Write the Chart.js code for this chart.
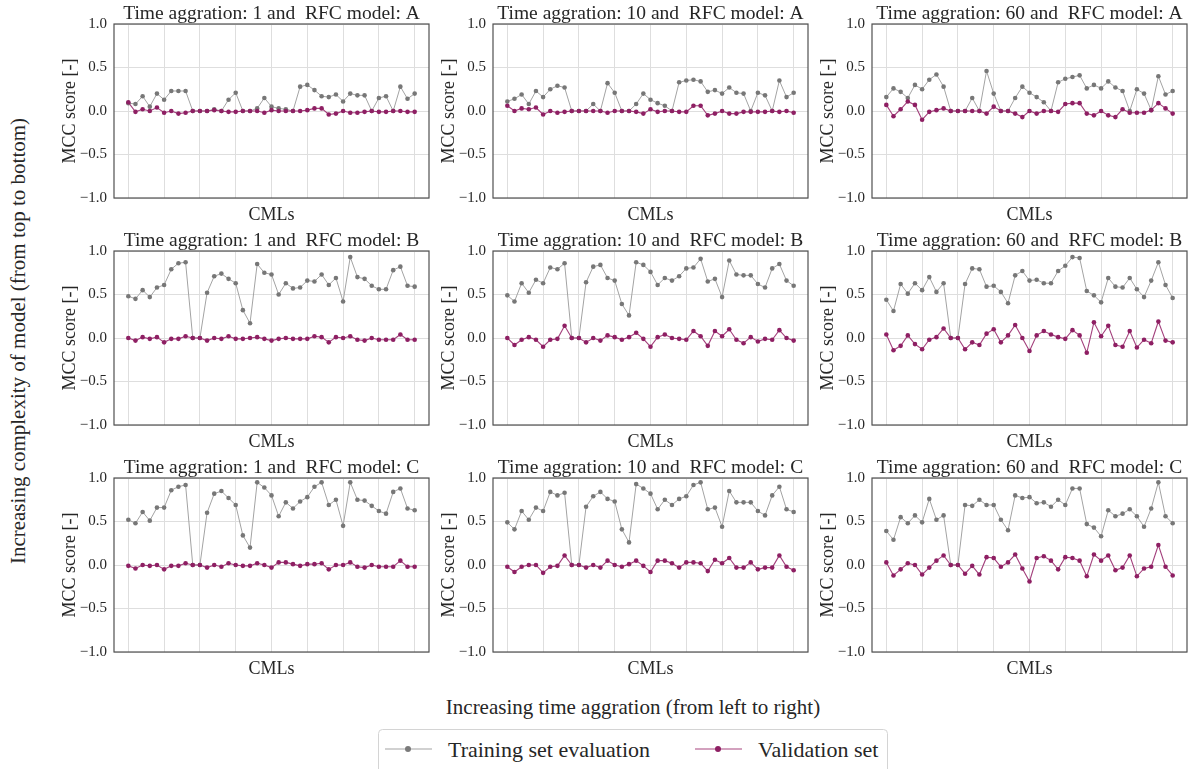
<!DOCTYPE html>
<html>
<head>
<meta charset="utf-8">
<title>MCC scores per CML</title>
<script src="https://cdn.jsdelivr.net/npm/chart.js@4.4.1/dist/chart.umd.min.js"></script>
<style>
    body {
        margin: 0;
        width: 1191px;
        height: 769px;
        background: #fff;
        position: relative;
        overflow: hidden;
        font-family: "Liberation Serif", "Times New Roman", serif;
        color: #262626;
    }
    canvas.panel { position: absolute; }
    .outer-label {
        position: absolute;
        white-space: nowrap;
        font-size: 21px;
        line-height: 1;
    }
    #ylab { left: 18px; top: 341px; transform: translate(-50%, -50%) rotate(-90deg); }
    #xlab { left: 633px; top: 707px; transform: translate(-50%, -50%); }
    #legend { position: absolute; left: 378px; top: 729px; }
</style>
</head>
<body>

<div id="ylab" class="outer-label">Increasing complexity of model (from top to bottom)</div>
<div id="xlab" class="outer-label">Increasing time aggration (from left to right)</div>

<svg id="legend" width="511" height="42">
    <rect x="0.5" y="0.5" width="509" height="50" rx="4" fill="#fff" stroke="#d4d4d4"/>
    <line x1="7" y1="20" x2="54" y2="20" stroke="#a3a3a3" stroke-width="1.2"/>
    <circle cx="30" cy="20" r="3" fill="#7a7a7a"/>
    <text x="70" y="27.5" font-family="Liberation Serif, serif" font-size="22" fill="#262626">Training set evaluation</text>
    <line x1="317" y1="20" x2="364" y2="20" stroke="#a8457f" stroke-width="1.2"/>
    <circle cx="340" cy="20" r="3" fill="#8e1f63"/>
    <text x="380" y="27.5" font-family="Liberation Serif, serif" font-size="22" fill="#262626">Validation set</text>
</svg>

<script>
// grid setup
const timeAggs = [1, 10, 60];
const models = ['A', 'B', 'C'];
const cmlTicks = [0, 5, 10, 15, 20, 25, 30, 35, 40];
const mccTicks = [-1, -0.5, 0, 0.5, 1];

// MCC per CML, model A
const trainT1A = [0.09,0.08,0.17,0.05,0.20,0.13,0.23,0.23,0.23,0,0,0,0.02,0,0.13,0.21,0,0,0.03,0.15,0.05,0.03,0.02,0,0.28,0.30,0.24,0.17,0.16,0.19,0.11,0.20,0.18,0.18,0,0.15,0.17,0,0.28,0.14,0.20];
const validT1A = [0.10,-0.01,0.02,0,0.04,-0.02,0,-0.03,-0.02,0,0,0,0.01,0,-0.01,-0.01,0,0,0,-0.02,0.01,0,0,0,0,0.01,0.03,0.03,-0.04,-0.03,0,-0.02,-0.02,-0.01,0,-0.01,-0.01,0,0,-0.01,-0.01];
const trainT10A = [0.11,0.14,0.19,0.08,0.23,0.16,0.25,0.29,0.27,0,0,0,0.08,0,0.32,0.21,0,0,0.08,0.20,0.13,0.09,0.06,0,0.33,0.35,0.36,0.34,0.22,0.24,0.20,0.27,0.21,0.20,0,0.21,0.18,0,0.35,0.16,0.21];
const validT10A = [0.06,0,0.03,0.02,0.04,-0.04,0,-0.02,-0.01,0,0,0,0,0,-0.02,0,0,0,-0.01,-0.03,0.02,-0.01,0,0,-0.01,-0.01,0.06,0.06,-0.05,-0.03,0,-0.03,-0.03,-0.01,-0.01,-0.01,-0.01,0,-0.01,0,-0.02];
const trainT60A = [0.16,0.26,0.22,0.15,0.30,0.25,0.36,0.42,0.28,0,0,0,0.15,0,0.46,0.20,0,0,0.15,0.28,0.21,0.16,0.10,0,0.33,0.37,0.39,0.41,0.26,0.30,0.26,0.34,0.27,0.23,0,0.25,0.20,0.01,0.40,0.19,0.23];
const validT60A = [0.07,-0.06,0.02,0.11,0.07,-0.10,-0.01,0.01,0.03,0,0,0,0,0,-0.03,0.05,0,0,-0.03,-0.07,0,-0.03,0,0,-0.01,0.08,0.09,0.09,-0.03,-0.05,0,-0.05,-0.07,0.02,-0.02,-0.02,-0.02,0.01,0.09,0.03,-0.03];

// model B
const trainT1B = [0.48,0.45,0.55,0.47,0.58,0.61,0.79,0.86,0.87,0,0,0.52,0.71,0.74,0.68,0.63,0.32,0.17,0.85,0.75,0.73,0.50,0.63,0.57,0.58,0.66,0.65,0.73,0.61,0.69,0.42,0.93,0.70,0.68,0.60,0.56,0.56,0.78,0.82,0.60,0.59];
const validT1B = [0,-0.03,0.01,-0.01,0.01,-0.05,-0.01,-0.01,0.02,0,0,-0.03,0,-0.01,0.02,-0.01,-0.01,0,0.01,-0.01,-0.03,-0.01,0,-0.01,-0.01,-0.01,0.02,0.01,-0.05,0.01,0,0.02,-0.02,-0.03,0,-0.02,-0.02,-0.02,0.04,-0.02,-0.02];
const trainT10B = [0.49,0.42,0.63,0.52,0.67,0.63,0.81,0.79,0.86,0,0,0.64,0.82,0.84,0.69,0.66,0.39,0.26,0.87,0.84,0.76,0.61,0.69,0.66,0.71,0.80,0.81,0.91,0.65,0.68,0.47,0.89,0.73,0.72,0.72,0.62,0.58,0.80,0.85,0.66,0.60];
const validT10B = [0,-0.08,-0.02,0.01,-0.02,-0.10,-0.02,-0.01,0.14,0,0,-0.05,0,-0.03,0.03,0.01,-0.02,0.01,0.06,-0.01,-0.10,0.01,0.04,0,-0.01,-0.02,0.08,0.02,-0.09,0.08,0.02,0.10,-0.02,-0.06,0.01,-0.04,-0.01,-0.02,0.09,0,-0.03];
const trainT60B = [0.44,0.31,0.62,0.51,0.63,0.55,0.70,0.53,0.63,0,0,0.62,0.80,0.79,0.59,0.60,0.53,0.40,0.72,0.77,0.66,0.67,0.63,0.63,0.77,0.83,0.93,0.92,0.54,0.49,0.41,0.69,0.59,0.58,0.69,0.56,0.47,0.66,0.87,0.61,0.46];
const validT60B = [0.04,-0.14,-0.09,0.03,-0.07,-0.13,-0.02,0.01,0.11,0,0,-0.13,-0.05,-0.08,0.05,0.10,-0.05,0.03,0.15,0,-0.15,0.03,0.08,0.04,0.01,-0.01,0.09,0.03,-0.17,0.18,0.02,0.14,-0.08,-0.10,0.08,-0.11,-0.02,-0.06,0.19,-0.03,-0.05];

// model C
const trainT1C = [0.52,0.48,0.61,0.51,0.66,0.66,0.86,0.90,0.92,0,0,0.60,0.82,0.85,0.77,0.69,0.34,0.20,0.95,0.89,0.80,0.56,0.72,0.65,0.73,0.78,0.90,0.95,0.69,0.75,0.45,0.95,0.75,0.74,0.68,0.62,0.59,0.84,0.88,0.65,0.63];
const validT1C = [-0.01,-0.04,0,-0.01,0,-0.05,-0.01,-0.01,0.02,0,0,-0.03,0,-0.02,0.02,0,-0.01,-0.01,0.02,0,-0.03,0.03,0.03,0.01,-0.01,0.01,0.01,0.02,-0.05,0,0,0.03,-0.02,-0.03,0,-0.02,-0.02,-0.02,0.05,-0.02,-0.02];
const trainT10C = [0.49,0.41,0.62,0.52,0.66,0.62,0.84,0.80,0.83,0,0,0.67,0.79,0.84,0.76,0.73,0.41,0.26,0.93,0.88,0.82,0.64,0.75,0.69,0.76,0.79,0.92,0.95,0.64,0.66,0.44,0.85,0.72,0.72,0.72,0.62,0.57,0.80,0.90,0.64,0.61];
const validT10C = [-0.02,-0.08,-0.02,0,0,-0.09,-0.02,-0.01,0.11,0,0,-0.03,0,-0.03,0.05,0,-0.02,0.01,0.05,-0.01,-0.08,0.05,0.05,0.02,-0.03,0.03,0.03,0.02,-0.07,0.06,0.02,0.08,-0.03,-0.03,0.03,-0.05,-0.03,-0.03,0.11,-0.02,-0.06];
const trainT60C = [0.39,0.29,0.55,0.48,0.57,0.49,0.76,0.52,0.57,0,0,0.69,0.68,0.75,0.69,0.69,0.52,0.40,0.80,0.77,0.78,0.71,0.72,0.67,0.75,0.69,0.88,0.88,0.47,0.43,0.33,0.63,0.56,0.59,0.64,0.56,0.44,0.65,0.95,0.56,0.48];
const validT60C = [0.03,-0.12,-0.05,0.02,0,-0.11,-0.03,0.05,0.11,0,0,-0.10,-0.01,-0.11,0.09,0.08,-0.02,0.03,0.12,-0.04,-0.19,0.08,0.10,0.05,-0.05,0.09,0.08,0.05,-0.13,0.12,0.05,0.11,-0.06,-0.03,0.11,-0.13,-0.04,-0.02,0.23,-0.02,-0.12];

const trainRows = [[trainT1A, trainT10A, trainT60A], [trainT1B, trainT10B, trainT60B], [trainT1C, trainT10C, trainT60C]];
const validRows = [[validT1A, validT10A, validT60A], [validT1B, validT10B, validT60B], [validT1C, validT10C, validT60C]];

// plot-area placement of each panel
const colLeft = [114, 493, 872];
const rowTop = [24, 251, 478];
const plotW = 315, plotH = 174;
const padL = 60, padT = 24, padR = 4, padB = 28;

const serif = '"Liberation Serif", "Times New Roman", serif';
const textColor = '#262626';
const gridColor = '#dedede';

function fmtTick(v) {
    const s = Math.abs(v).toFixed(1);
    return v < 0 ? '\u2212' + s : s;
}

// panel title centred over the plot area, plus a full frame around it
const panelDecor = {
    id: 'panelDecor',
    afterDraw(chart, args, opts) {
        const { ctx, chartArea: a } = chart;
        ctx.save();
        ctx.strokeStyle = '#505050';
        ctx.lineWidth = 1.2;
        ctx.strokeRect(a.left, a.top, a.right - a.left, a.bottom - a.top);
        ctx.fillStyle = textColor;
        ctx.font = '19.5px ' + serif;
        ctx.textAlign = 'center';
        ctx.textBaseline = 'alphabetic';
        ctx.fillText(opts.text, (a.left + a.right) / 2, a.top - 5);
        ctx.restore();
    }
};

function makePanel(r, c) {
    const canvas = document.createElement('canvas');
    canvas.className = 'panel';
    const w = padL + plotW + padR, h = padT + plotH + padB;
    canvas.width = w;
    canvas.height = h;
    canvas.style.width = w + 'px';
    canvas.style.height = h + 'px';
    canvas.style.left = (colLeft[c] - padL) + 'px';
    canvas.style.top = (rowTop[r] - padT) + 'px';
    document.body.appendChild(canvas);

    const toPoints = arr => arr.map((v, i) => ({ x: i, y: v }));

    new Chart(canvas.getContext('2d'), {
        type: 'line',
        data: {
            datasets: [
                {
                    label: 'Training set evaluation',
                    data: toPoints(trainRows[r][c]),
                    borderColor: '#a3a3a3',
                    borderWidth: 1,
                    pointRadius: 2.3,
                    pointBorderWidth: 0,
                    pointBackgroundColor: '#777777',
                    tension: 0,
                    order: 1
                },
                {
                    label: 'Validation set',
                    data: toPoints(validRows[r][c]),
                    borderColor: '#a3407c',
                    borderWidth: 1.1,
                    pointRadius: 2.3,
                    pointBorderWidth: 0,
                    pointBackgroundColor: '#8e1f63',
                    tension: 0,
                    order: 0
                }
            ]
        },
        options: {
            responsive: false,
            animation: false,
            devicePixelRatio: 1,
            layout: { padding: { top: padT, left: 0, right: padR, bottom: 0 } },
            plugins: {
                legend: { display: false },
                tooltip: { enabled: false },
                panelDecor: { text: 'Time aggration: ' + timeAggs[c] + ' and  RFC model: ' + models[r] }
            },
            scales: {
                x: {
                    type: 'linear',
                    min: -2,
                    max: 42,
                    afterBuildTicks: s => { s.ticks = cmlTicks.map(v => ({ value: v })); },
                    afterFit: s => { s.height = padB; },
                    ticks: { display: false },
                    grid: { color: gridColor, lineWidth: 1, drawTicks: false },
                    border: { display: false },
                    title: {
                        display: true,
                        text: 'CMLs',
                        color: textColor,
                        font: { family: serif, size: 18 },
                        padding: { top: 0, bottom: 0 }
                    }
                },
                y: {
                    min: -1,
                    max: 1,
                    afterBuildTicks: s => { s.ticks = mccTicks.map(v => ({ value: v })); },
                    afterFit: s => { s.width = padL; },
                    ticks: {
                        padding: 7,
                        color: textColor,
                        font: { family: serif, size: 15 },
                        callback: v => fmtTick(v)
                    },
                    grid: { color: gridColor, lineWidth: 1, drawTicks: false },
                    border: { display: false },
                    title: {
                        display: true,
                        text: 'MCC score [-]',
                        color: textColor,
                        font: { family: serif, size: 18 },
                        padding: { top: 5, bottom: 0 }
                    }
                }
            }
        },
        plugins: [panelDecor]
    });
}

for (let r = 0; r < 3; r++) {
    for (let c = 0; c < 3; c++) {
        makePanel(r, c);
    }
}
</script>
</body>
</html>
